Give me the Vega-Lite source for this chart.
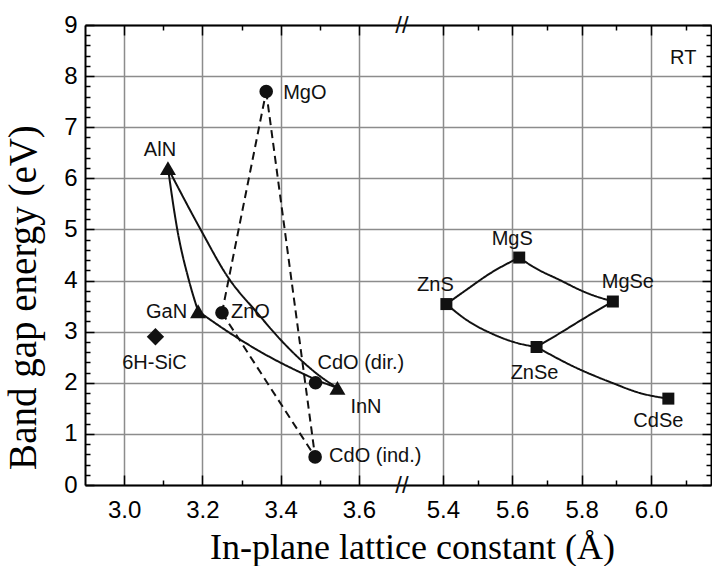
{
  "$schema": "https://vega.github.io/schema/vega-lite/v6.json",
  "width": 626,
  "height": 460,
  "autosize": {"type": "none"},
  "padding": {"left": 85, "top": 25, "right": 1, "bottom": 81},
  "background": "white",
  "config": {
    "view": {"stroke": null},
    "axis": {
      "domainColor": "black", "domainWidth": 2,
      "tickColor": "black", "tickWidth": 1.5,
      "gridColor": "#8c8c8c", "gridWidth": 1.5,
      "labelColor": "black", "labelFont": "Liberation Sans", "labelFontSize": 24,
      "titleColor": "black", "titleFont": "Liberation Serif", "titleFontWeight": "normal",
      "labelOverlap": false, "labelFlush": false
    }
  },
  "datasets": {
    "curves": [
      {"seg": "AlN-GaN", "style": "solid", "a": 3.112, "E": 6.2},
      {"seg": "AlN-GaN", "style": "solid", "a": 3.136, "E": 4.99},
      {"seg": "AlN-GaN", "style": "solid", "a": 3.166, "E": 3.99},
      {"seg": "AlN-GaN", "style": "solid", "a": 3.189, "E": 3.4},
      {"seg": "AlN-InN", "style": "solid", "a": 3.112, "E": 6.2},
      {"seg": "AlN-InN", "style": "solid", "a": 3.196, "E": 4.99},
      {"seg": "AlN-InN", "style": "solid", "a": 3.264, "E": 4.08},
      {"seg": "AlN-InN", "style": "solid", "a": 3.341, "E": 3.36},
      {"seg": "AlN-InN", "style": "solid", "a": 3.4, "E": 2.84},
      {"seg": "AlN-InN", "style": "solid", "a": 3.451, "E": 2.45},
      {"seg": "AlN-InN", "style": "solid", "a": 3.502, "E": 2.12},
      {"seg": "AlN-InN", "style": "solid", "a": 3.545, "E": 1.9},
      {"seg": "GaN-InN", "style": "solid", "a": 3.189, "E": 3.4},
      {"seg": "GaN-InN", "style": "solid", "a": 3.281, "E": 2.92},
      {"seg": "GaN-InN", "style": "solid", "a": 3.366, "E": 2.53},
      {"seg": "GaN-InN", "style": "solid", "a": 3.451, "E": 2.2},
      {"seg": "GaN-InN", "style": "solid", "a": 3.5, "E": 2.03},
      {"seg": "GaN-InN", "style": "solid", "a": 3.545, "E": 1.9},
      {"seg": "ZnO-MgO", "style": "dashed", "a": 3.25, "E": 3.37},
      {"seg": "ZnO-MgO", "style": "dashed", "a": 3.363, "E": 7.7},
      {"seg": "MgO-CdO", "style": "dashed", "a": 3.363, "E": 7.7},
      {"seg": "MgO-CdO", "style": "dashed", "a": 3.488, "E": 0.55},
      {"seg": "ZnO-CdO", "style": "dashed", "a": 3.25, "E": 3.37},
      {"seg": "ZnO-CdO", "style": "dashed", "a": 3.488, "E": 0.55},
      {"seg": "ZnS-MgS", "style": "solid", "a": 5.41, "E": 3.54},
      {"seg": "ZnS-MgS", "style": "solid", "a": 5.468, "E": 3.82},
      {"seg": "ZnS-MgS", "style": "solid", "a": 5.536, "E": 4.14},
      {"seg": "ZnS-MgS", "style": "solid", "a": 5.62, "E": 4.45},
      {"seg": "MgS-MgSe", "style": "solid", "a": 5.62, "E": 4.45},
      {"seg": "MgS-MgSe", "style": "solid", "a": 5.66, "E": 4.27},
      {"seg": "MgS-MgSe", "style": "solid", "a": 5.737, "E": 4.01},
      {"seg": "MgS-MgSe", "style": "solid", "a": 5.814, "E": 3.76},
      {"seg": "MgS-MgSe", "style": "solid", "a": 5.89, "E": 3.59},
      {"seg": "ZnS-ZnSe", "style": "solid", "a": 5.41, "E": 3.54},
      {"seg": "ZnS-ZnSe", "style": "solid", "a": 5.468, "E": 3.23},
      {"seg": "ZnS-ZnSe", "style": "solid", "a": 5.545, "E": 2.95},
      {"seg": "ZnS-ZnSe", "style": "solid", "a": 5.613, "E": 2.78},
      {"seg": "ZnS-ZnSe", "style": "solid", "a": 5.67, "E": 2.7},
      {"seg": "ZnSe-MgSe", "style": "solid", "a": 5.67, "E": 2.7},
      {"seg": "ZnSe-MgSe", "style": "solid", "a": 5.737, "E": 2.97},
      {"seg": "ZnSe-MgSe", "style": "solid", "a": 5.814, "E": 3.29},
      {"seg": "ZnSe-MgSe", "style": "solid", "a": 5.89, "E": 3.59},
      {"seg": "ZnSe-CdSe", "style": "solid", "a": 5.67, "E": 2.7},
      {"seg": "ZnSe-CdSe", "style": "solid", "a": 5.776, "E": 2.32},
      {"seg": "ZnSe-CdSe", "style": "solid", "a": 5.891, "E": 1.99},
      {"seg": "ZnSe-CdSe", "style": "solid", "a": 5.968, "E": 1.8},
      {"seg": "ZnSe-CdSe", "style": "solid", "a": 6.05, "E": 1.69}
    ],
    "pts": [
      {"name": "AlN", "group": "tri", "a": 3.112, "E": 6.2},
      {"name": "GaN", "group": "tri", "a": 3.189, "E": 3.4},
      {"name": "InN", "group": "tri", "a": 3.545, "E": 1.9},
      {"name": "ZnO", "group": "circle", "a": 3.25, "E": 3.37},
      {"name": "MgO", "group": "circle", "a": 3.363, "E": 7.7},
      {"name": "CdO (dir.)", "group": "circle", "a": 3.489, "E": 2.0},
      {"name": "CdO (ind.)", "group": "circle", "a": 3.488, "E": 0.55},
      {"name": "6H-SiC", "group": "diamond", "a": 3.08, "E": 2.9},
      {"name": "ZnS", "group": "square", "a": 5.41, "E": 3.54},
      {"name": "MgS", "group": "square", "a": 5.62, "E": 4.45},
      {"name": "MgSe", "group": "square", "a": 5.89, "E": 3.59},
      {"name": "ZnSe", "group": "square", "a": 5.67, "E": 2.7},
      {"name": "CdSe", "group": "square", "a": 6.05, "E": 1.69}
    ],
    "notes": [
      {"name": "RT", "a": 6.093, "E": 8.35}
    ],
    "breaks": [
      {"name": "//", "a": 3.71, "E": 0},
      {"name": "//", "a": 3.71, "E": 9}
    ]
  },
  "layer": [
    {
      "data": {"name": "curves"},
      "mark": {"type": "line", "interpolate": "monotone", "color": "#111", "strokeWidth": 2},
      "encoding": {
        "x": {
          "field": "a", "type": "quantitative",
          "scale": {"domain": [2.9, 3.71, 5.282, 6.173], "range": [0, 317, 317, 626], "zero": false, "nice": false},
          "axis": {
            "orient": "bottom",
            "values": [3.0, 3.1, 3.2, 3.3, 3.4, 3.5, 3.6, 5.4, 5.5, 5.6, 5.7, 5.8, 5.9, 6.0, 6.1],
            "labelExpr": "round(datum.value*10)%2==0 ? format(datum.value,'.1f') : ''",
            "tickSize": {"condition": {"test": "round(datum.value*10)%2==0", "value": -10}, "value": -5},
            "grid": true,
            "gridOpacity": {"condition": {"test": "round(datum.value*10)%2==0", "value": 1}, "value": 0},
            "labelPadding": 23,
            "title": "In-plane lattice constant (Å)",
            "titleFontSize": 36, "titleX": 327, "titleY": 73,
            "titleBaseline": "alphabetic", "titleAlign": "center"
          }
        },
        "y": {
          "field": "E", "type": "quantitative",
          "scale": {"domain": [0, 9], "zero": false, "nice": false},
          "axis": {
            "orient": "left",
            "values": [0,0.2,0.4,0.6,0.8,1,1.2,1.4,1.6,1.8,2,2.2,2.4,2.6,2.8,3,3.2,3.4,3.6,3.8,4,4.2,4.4,4.6,4.8,5,5.2,5.4,5.6,5.8,6,6.2,6.4,6.6,6.8,7,7.2,7.4,7.6,7.8,8,8.2,8.4,8.6,8.8,9],
            "labelExpr": "abs(datum.value-round(datum.value))<0.01 ? format(datum.value,'d') : ''",
            "tickSize": {"condition": {"test": "abs(datum.value-round(datum.value))<0.01", "value": -9}, "value": -5},
            "grid": true,
            "gridOpacity": {"condition": {"test": "abs(datum.value-round(datum.value))<0.01", "value": 1}, "value": 0},
            "labelPadding": 17,
            "title": "Band gap energy (eV)",
            "titleFontSize": 39, "titleX": -50, "titleY": 272, "titleAngle": 270,
            "titleBaseline": "alphabetic", "titleAlign": "center"
          }
        },
        "detail": {"field": "seg", "type": "nominal"},
        "strokeDash": {
          "field": "style", "type": "nominal",
          "scale": {"domain": ["solid", "dashed"], "range": [[1, 0], [8, 5]]},
          "legend": null
        }
      }
    },
    {
      "data": {"name": "pts"},
      "encoding": {
        "x": {
          "field": "a", "type": "quantitative",
          "scale": {"domain": [2.9, 3.71, 5.282, 6.173], "range": [0, 317, 317, 626], "zero": false, "nice": false},
          "axis": {
            "orient": "top",
            "values": [3.0, 3.1, 3.2, 3.3, 3.4, 3.5, 3.6, 5.4, 5.5, 5.6, 5.7, 5.8, 5.9, 6.0, 6.1],
            "labels": false, "grid": false, "title": null,
            "tickSize": {"condition": {"test": "round(datum.value*10)%2==0", "value": -10}, "value": -5}
          }
        },
        "y": {
          "field": "E", "type": "quantitative",
          "scale": {"domain": [0, 9], "zero": false, "nice": false},
          "axis": {
            "orient": "right",
            "values": [0,0.2,0.4,0.6,0.8,1,1.2,1.4,1.6,1.8,2,2.2,2.4,2.6,2.8,3,3.2,3.4,3.6,3.8,4,4.2,4.4,4.6,4.8,5,5.2,5.4,5.6,5.8,6,6.2,6.4,6.6,6.8,7,7.2,7.4,7.6,7.8,8,8.2,8.4,8.6,8.8,9],
            "labels": false, "grid": false, "title": null,
            "tickSize": {"condition": {"test": "abs(datum.value-round(datum.value))<0.01", "value": -9}, "value": -5}
          }
        }
      },
      "layer": [
        {"transform": [{"filter": "datum.group==='tri'"}], "mark": {"type": "point", "filled": true, "opacity": 1, "color": "#111", "shape": "triangle-up", "size": 256}},
        {"transform": [{"filter": "datum.group==='circle'"}], "mark": {"type": "point", "filled": true, "opacity": 1, "color": "#111", "shape": "circle", "size": 185}},
        {"transform": [{"filter": "datum.group==='square'"}], "mark": {"type": "point", "filled": true, "opacity": 1, "color": "#111", "shape": "square", "size": 144}},
        {"transform": [{"filter": "datum.group==='diamond'"}], "mark": {"type": "point", "filled": true, "opacity": 1, "color": "#111", "shape": "diamond", "size": 300}},
        {"transform": [{"filter": "datum.name==='AlN'"}], "mark": {"type": "text", "font": "Liberation Sans", "fontSize": 20, "color": "#111", "align": "center", "baseline": "middle", "dx": -8, "dy": -18}, "encoding": {"text": {"field": "name"}}},
        {"transform": [{"filter": "datum.name==='MgO'"}], "mark": {"type": "text", "font": "Liberation Sans", "fontSize": 20, "color": "#111", "align": "left", "baseline": "middle", "dx": 17, "dy": 2}, "encoding": {"text": {"field": "name"}}},
        {"transform": [{"filter": "datum.name==='ZnO'"}], "mark": {"type": "text", "font": "Liberation Sans", "fontSize": 20, "color": "#111", "align": "left", "baseline": "middle", "dx": 9, "dy": -1}, "encoding": {"text": {"field": "name"}}},
        {"transform": [{"filter": "datum.name==='GaN'"}], "mark": {"type": "text", "font": "Liberation Sans", "fontSize": 20, "color": "#111", "align": "right", "baseline": "middle", "dx": -11, "dy": 1}, "encoding": {"text": {"field": "name"}}},
        {"transform": [{"filter": "datum.name==='6H-SiC'"}], "mark": {"type": "text", "font": "Liberation Sans", "fontSize": 20, "color": "#111", "align": "center", "baseline": "middle", "dx": -1, "dy": 26}, "encoding": {"text": {"field": "name"}}},
        {"transform": [{"filter": "datum.name==='CdO (dir.)'"}], "mark": {"type": "text", "font": "Liberation Sans", "fontSize": 20, "color": "#111", "align": "left", "baseline": "middle", "dx": 2, "dy": -20}, "encoding": {"text": {"field": "name"}}},
        {"transform": [{"filter": "datum.name==='InN'"}], "mark": {"type": "text", "font": "Liberation Sans", "fontSize": 20, "color": "#111", "align": "left", "baseline": "middle", "dx": 13, "dy": 19}, "encoding": {"text": {"field": "name"}}},
        {"transform": [{"filter": "datum.name==='CdO (ind.)'"}], "mark": {"type": "text", "font": "Liberation Sans", "fontSize": 20, "color": "#111", "align": "left", "baseline": "middle", "dx": 14, "dy": -1}, "encoding": {"text": {"field": "name"}}},
        {"transform": [{"filter": "datum.name==='MgS'"}], "mark": {"type": "text", "font": "Liberation Sans", "fontSize": 20, "color": "#111", "align": "center", "baseline": "middle", "dx": -7, "dy": -19}, "encoding": {"text": {"field": "name"}}},
        {"transform": [{"filter": "datum.name==='ZnS'"}], "mark": {"type": "text", "font": "Liberation Sans", "fontSize": 20, "color": "#111", "align": "center", "baseline": "middle", "dx": -11, "dy": -19}, "encoding": {"text": {"field": "name"}}},
        {"transform": [{"filter": "datum.name==='MgSe'"}], "mark": {"type": "text", "font": "Liberation Sans", "fontSize": 20, "color": "#111", "align": "center", "baseline": "middle", "dx": 15, "dy": -20}, "encoding": {"text": {"field": "name"}}},
        {"transform": [{"filter": "datum.name==='ZnSe'"}], "mark": {"type": "text", "font": "Liberation Sans", "fontSize": 20, "color": "#111", "align": "center", "baseline": "middle", "dx": -2, "dy": 26}, "encoding": {"text": {"field": "name"}}},
        {"transform": [{"filter": "datum.name==='CdSe'"}], "mark": {"type": "text", "font": "Liberation Sans", "fontSize": 20, "color": "#111", "align": "center", "baseline": "middle", "dx": -10, "dy": 22}, "encoding": {"text": {"field": "name"}}},
        {"data": {"name": "notes"}, "mark": {"type": "text", "font": "Liberation Sans", "fontSize": 20, "color": "#111", "align": "center", "baseline": "middle"}, "encoding": {"text": {"field": "name"}}},
        {"data": {"name": "breaks"}, "mark": {"type": "text", "font": "Liberation Sans", "fontSize": 24, "color": "#111", "align": "center", "baseline": "middle", "dy": 1}, "encoding": {"text": {"field": "name"}}}
      ]
    }
  ],
  "resolve": {"axis": {"x": "independent", "y": "independent"}}
}
